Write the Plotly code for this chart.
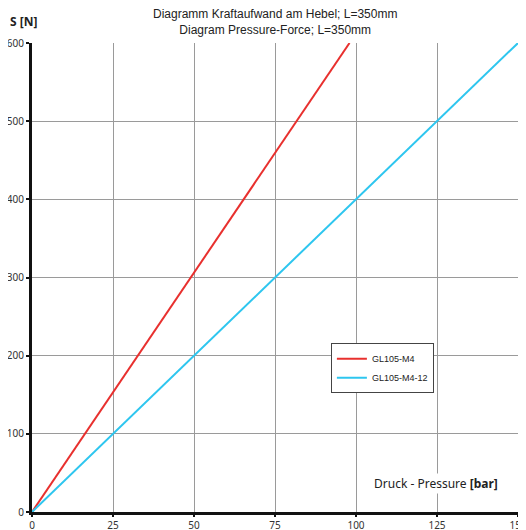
import plotly.graph_objects as go

pressure_m4 = [0, 98]
force_m4 = [0, 600]
pressure_m412 = [0, 150]
force_m412 = [0, 600]
x_ticks = [0, 25, 50, 75, 100, 125, 150]
y_ticks = [0, 100, 200, 300, 400, 500, 600]

fig = go.Figure()
fig.add_trace(go.Scatter(x=pressure_m4, y=force_m4, mode="lines", name="GL105-M4",
                         line=dict(color="#e8302e", width=2)))
fig.add_trace(go.Scatter(x=pressure_m412, y=force_m412, mode="lines", name="GL105-M4-12",
                         line=dict(color="#2ec6ef", width=2)))

fig.update_layout(
    width=518, height=522,
    margin=dict(l=24, r=8, t=35, b=18, autoexpand=False),
    plot_bgcolor="white", paper_bgcolor="white",
    font=dict(family="Noto Sans, Open Sans", size=10, color="#333"),
    legend=dict(x=0.615, y=0.36, xanchor="left", yanchor="top",
                bgcolor="white", bordercolor="#444", borderwidth=1,
                font=dict(family="Liberation Sans, Arial", size=9, color="#222"),
                itemwidth=30, tracegroupgap=0),
    showlegend=True,
)
fig.update_xaxes(range=[0, 150], tickvals=x_ticks, showgrid=True, gridcolor="#9a9a9a",
                 gridwidth=1, zeroline=False, showline=True, linecolor="#111", linewidth=3,
                 ticks="outside", ticklen=2, tickwidth=2, tickcolor="#111", automargin=False,
                 ticklabeloverflow="allow",
                 tickfont=dict(size=10, color="#333"), fixedrange=True)
fig.update_yaxes(range=[0, 600], tickvals=y_ticks, showgrid=True, gridcolor="#9a9a9a",
                 gridwidth=1, zeroline=False, showline=True, linecolor="#111", linewidth=3,
                 ticks="outside", ticklen=3, tickwidth=2, tickcolor="#111", automargin=False,
                 ticklabeloverflow="allow",
                 tickfont=dict(size=10, color="#333"), fixedrange=True)

fig.add_annotation(text="Diagramm Kraftaufwand am Hebel; L=350mm<br>Diagram Pressure-Force; L=350mm",
                   xref="paper", yref="paper", x=0.5, y=1.0, xanchor="center", yanchor="bottom",
                   yshift=4, showarrow=False,
                   font=dict(family="Liberation Sans, Arial", size=12, color="#222"))
fig.add_annotation(text="<b>S [N]</b>", xref="paper", yref="paper", x=-0.049, y=1.045,
                   xanchor="left", yanchor="middle", showarrow=False,
                   font=dict(family="Noto Sans, Open Sans", size=12, color="#222"))
fig.add_annotation(text="Druck - Pressure <b>[bar]</b>", xref="paper", yref="paper",
                   x=0.963, y=0.06, xanchor="right", yanchor="middle", showarrow=False,
                   font=dict(family="Noto Sans, Open Sans", size=12, color="#222"),
                   bgcolor="white")

fig.write_html("out.html")
